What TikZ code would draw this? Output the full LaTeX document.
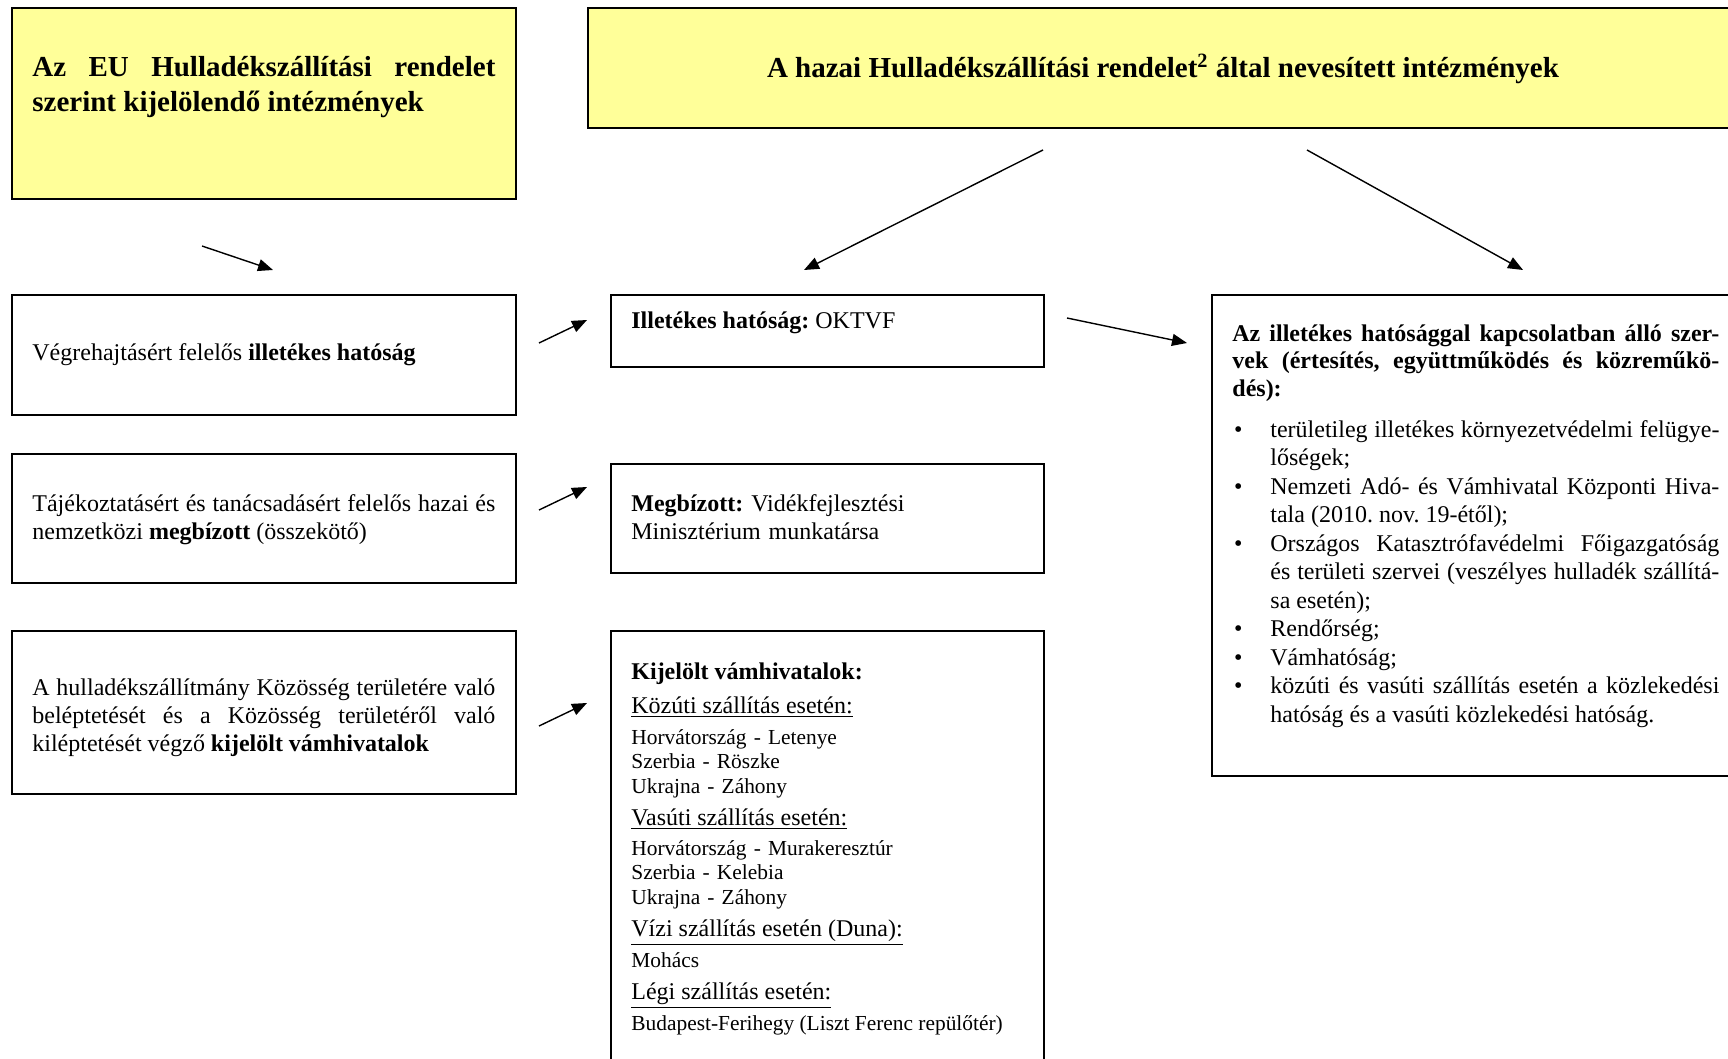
\documentclass[tikz,border=0pt]{standalone}
\usepackage{fontspec}
\setmainfont{Liberation Serif}
\usetikzlibrary{arrows.meta,positioning}
\definecolor{hdryellow}{HTML}{FFFF99}
\tolerance=9999
\hyphenpenalty=10000
\frenchspacing
\newcommand\hitem[1]{\noindent\hangindent=19pt\hangafter=0\llap{\textbullet\hspace{14pt}}#1\par}

\begin{document}
\begin{tikzpicture}[x=0.5pt,y=-0.5pt,
  ybox/.style={draw,line width=0.9pt,fill=hdryellow,anchor=north west,inner sep=0pt},
  wbox/.style={draw,line width=0.9pt,anchor=north west,inner sep=0pt},
  txt/.style={anchor=base west,inner sep=0pt,align=justify,font=\fontsize{12}{14}\selectfont},
  sml/.style={anchor=base west,inner sep=0pt,align=left,font=\fontsize{10.7}{12.25}\selectfont},
  ttl/.style={inner sep=0pt,align=justify,font=\bfseries\fontsize{14.5}{17.5}\selectfont},
  arr/.style={-{Triangle[length=7.5pt,width=6pt]},line width=0.7pt}]
\useasboundingbox (0,0) rectangle (1728,1059);
\clip (0,0) rectangle (1728,1059);

% header boxes
\node[ybox,minimum width=252pt,minimum height=95.5pt] (euhead) at (11,7) {};
\node[ybox,minimum width=576.5pt,minimum height=60pt] (huhead) at (587,7) {};
\node[ttl,anchor=base west,text width=231.5pt] (eutitle) at (32,77)
  {Az EU Hulladékszállítási rendelet\linebreak szerint kijelölendő intézmények};
\node[ttl,anchor=base] (hutitle) at (1163,78)
  {A hazai Hulladékszállítási rendelet\textsuperscript{2} által nevesített intézmények};

% left column
\node[wbox,minimum width=252pt,minimum height=60pt] (vegr) at (11,294) {};
\node[wbox,minimum width=252pt,minimum height=64.5pt] (taj) at (11,453) {};
\node[wbox,minimum width=252pt,minimum height=81.5pt] (hull) at (11,630) {};
\node[txt] (vegrtxt) at (32,360) {Végrehajtásért felelős \textbf{illetékes hatóság}};
\node[txt,text width=231.5pt] (tajtxt) at (32,511)
  {Tájékoztatásért és tanácsadásért felelős hazai és\linebreak nemzetközi \textbf{megbízott} (összekötő)};
\node[txt,text width=231.5pt] (hulltxt) at (32,695)
  {A hulladékszállítmány Közösség területére való\linebreak beléptetését és a Közösség területéről való\linebreak kiléptetését végző \textbf{kijelölt vámhivatalok}};

% middle column
\node[wbox,minimum width=216.5pt,minimum height=36pt] (illet) at (610,294) {};
\node[wbox,minimum width=216.5pt,minimum height=54.5pt] (megb) at (610,463) {};
\node[wbox,minimum width=216.5pt,minimum height=225pt] (kij) at (610,630) {};
\node[txt] (illettxt) at (631,328) {\textbf{Illetékes hatóság:} OKTVF};
\node[txt,text width=200pt,align=left] (megbtxt) at (631,511)
  {\textbf{Megbízott:} Vidékfejlesztési\\Minisztérium munkatársa};
\node[txt,font=\bfseries\fontsize{12}{14}\selectfont] (kijhead) at (631,679) {Kijelölt vámhivatalok:};
\node[txt] (kijroad) at (631,713) {\underline{Közúti szállítás esetén:}};
\node[sml,text width=200pt] (kijroadl) at (631,744) {Horvátország - Letenye\\Szerbia - Röszke\\Ukrajna - Záhony};
\node[txt] (kijrail) at (631,825) {\underline{Vasúti szállítás esetén:}};
\node[sml,text width=200pt] (kijraill) at (631,855) {Horvátország - Murakeresztúr\\Szerbia - Kelebia\\Ukrajna - Záhony};
\node[txt] (kijwater) at (631,936) {\underline{Vízi szállítás esetén (Duna):}};
\node[sml] (kijwaterl) at (631,967) {Mohács};
\node[txt] (kijair) at (631,999) {\underline{Légi szállítás esetén:}};
\node[sml] (kijairl) at (631,1030) {Budapest-Ferihegy (Liszt Ferenc repülőtér)};

% right column
\node[wbox,minimum width=264.5pt,minimum height=240.5pt] (rel) at (1211,294) {};
\node[txt,text width=243.5pt,font=\bfseries\fontsize{12}{13.75}\selectfont] (reltxt) at (1232,341)
  {Az illetékes hatósággal kapcsolatban álló szer-\linebreak vek (értesítés, együttműködés és közreműkö-\linebreak dés):};
\node[txt,text width=243.5pt,font=\fontsize{12}{14.25}\selectfont] (rellist) at (1232,437)
  {\hitem{területileg illetékes környezetvédelmi felügye-\linebreak lőségek;}
   \hitem{Nemzeti Adó- és Vámhivatal Központi Hiva-\linebreak tala (2010. nov. 19-étől);}
   \hitem{Országos Katasztrófavédelmi Főigazgatóság\linebreak és területi szervei (veszélyes hulladék szállítá-\linebreak sa esetén);}
   \hitem{Rendőrség;}
   \hitem{Vámhatóság;}
   \hitem{közúti és vasúti szállítás esetén a közlekedési\linebreak hatóság és a vasúti közlekedési hatóság.}};

% arrows
\coordinate (a1s) at (202,246); \coordinate (a1e) at (273,270);
\coordinate (a2s) at (1043,150); \coordinate (a2e) at (804,270);
\coordinate (a3s) at (1307,150); \coordinate (a3e) at (1523,270);
\coordinate (a4s) at (539,343); \coordinate (a4e) at (587,320);
\coordinate (a5s) at (1067,318); \coordinate (a5e) at (1187,343);
\coordinate (a6s) at (539,510); \coordinate (a6e) at (587,487);
\coordinate (a7s) at (539,726); \coordinate (a7e) at (587,703);
\draw[arr] (a1s) -- (a1e);
\draw[arr] (a2s) -- (a2e);
\draw[arr] (a3s) -- (a3e);
\draw[arr] (a4s) -- (a4e);
\draw[arr] (a5s) -- (a5e);
\draw[arr] (a6s) -- (a6e);
\draw[arr] (a7s) -- (a7e);
\end{tikzpicture}
\end{document}
